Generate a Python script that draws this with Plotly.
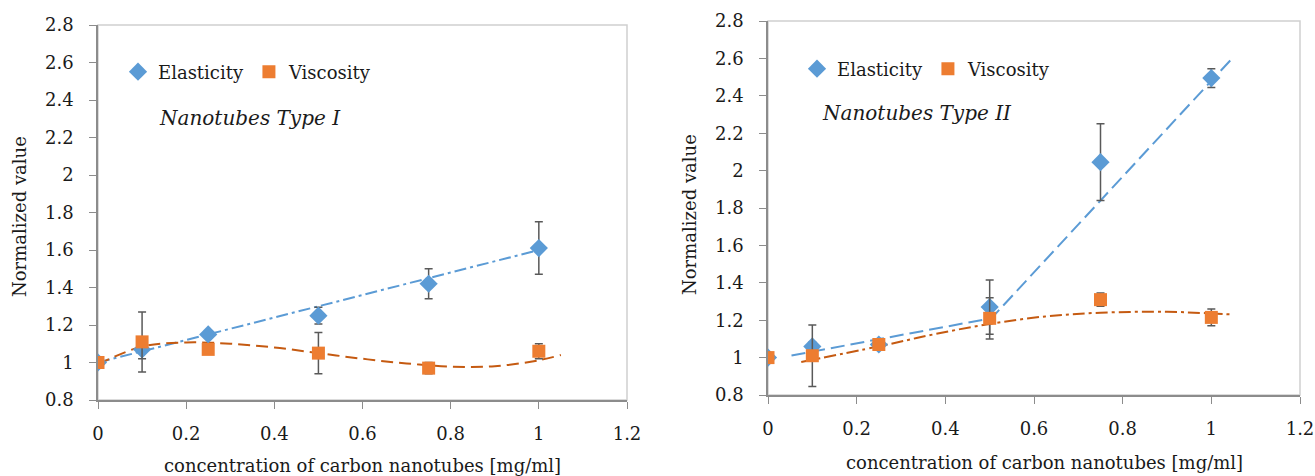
import plotly.graph_objects as go

# ---------------- data ----------------
conc = [0, 0.1, 0.25, 0.5, 0.75, 1.0]

# Panel I (Nanotubes Type I)
elast_1 = [1.0, 1.07, 1.15, 1.25, 1.42, 1.61]
elast_1_err = [0, 0.05, 0.02, 0.045, 0.08, 0.14]
visc_1 = [1.0, 1.11, 1.07, 1.05, 0.97, 1.06]
visc_1_err = [0, 0.16, 0.02, 0.11, 0.03, 0.04]

# Panel II (Nanotubes Type II)
elast_2 = [1.0, 1.06, 1.07, 1.27, 2.045, 2.495]
elast_2_err = [0, 0.022, 0.02, 0.145, 0.205, 0.05]
visc_2 = [1.0, 1.01, 1.07, 1.21, 1.31, 1.215]
visc_2_err = [0, 0.165, 0.02, 0.11, 0.035, 0.045]

# trend lines
tr_e1_x = [0, 1.0]
tr_e1_y = [1.0, 1.6]
tr_v1_x = [0, 0.1, 0.2, 0.3, 0.4, 0.5, 0.6, 0.7, 0.8, 0.9, 1.0, 1.05]
tr_v1_y = [0.99, 1.085, 1.107, 1.10, 1.08, 1.05, 1.02, 0.995, 0.978, 0.98, 1.012, 1.04]

tr_e2a_x = [0.053, 0.5]
tr_e2a_y = [1.011, 1.209]
tr_e2b_x = [0.5, 1.047]
tr_e2b_y = [1.2, 2.6]
tr_v2_x = [0.075, 0.25, 0.375, 0.5, 0.625, 0.75, 0.9, 1.0, 1.05]
tr_v2_y = [0.977, 1.06, 1.125, 1.18, 1.22, 1.24, 1.245, 1.236, 1.23]

x_ticks = [0, 0.2, 0.4, 0.6, 0.8, 1.0, 1.2]
x_tick_text = ["0", "0.2", "0.4", "0.6", "0.8", "1", "1.2"]
y_ticks = [0.8, 1.0, 1.2, 1.4, 1.6, 1.8, 2.0, 2.2, 2.4, 2.6, 2.8]
y_tick_text = ["0.8", "1", "1.2", "1.4", "1.6", "1.8", "2", "2.2", "2.4", "2.6", "2.8"]

x_title = "concentration of carbon nanotubes [mg/ml]"
y_title = "Normalized value"

# ---------------- styles ----------------
BLUE = "#5B9BD5"
BLUE_LINE = "#5B9BD5"
ORANGE = "#ED7D31"
ORANGE_LINE = "#C55A11"
ERR = "#595959"
FONT = "DejaVu Serif"
FS = 18
TXT = "#1a1a1a"

fig = go.Figure()

def add_panel(xa, ya, legend, e, e_err, v, v_err):
    fig.add_trace(go.Scatter(
        x=conc, y=e, mode="markers", name="Elasticity", legend=legend,
        xaxis=xa, yaxis=ya,
        marker=dict(symbol="diamond", size=14, color=BLUE),
        error_y=dict(type="data", array=e_err, visible=True, color=ERR,
                     thickness=1.5, width=4),
    ))
    fig.add_trace(go.Scatter(
        x=conc, y=v, mode="markers", name="Viscosity", legend=legend,
        xaxis=xa, yaxis=ya,
        marker=dict(symbol="square", size=13, color=ORANGE),
        error_y=dict(type="data", array=v_err, visible=True, color=ERR,
                     thickness=1.5, width=4),
    ))

def add_line(xa, ya, xs, ys, color, dash, shape="linear"):
    fig.add_trace(go.Scatter(
        x=xs, y=ys, mode="lines", showlegend=False, hoverinfo="skip",
        xaxis=xa, yaxis=ya,
        line=dict(color=color, width=2, dash=dash, shape=shape,
                  smoothing=1.0 if shape == "spline" else None),
    ))

# Panel I: trend lines first (under markers)
add_line("x", "y", tr_e1_x, tr_e1_y, BLUE_LINE, "12px,4px,3px,4px")
add_line("x", "y", tr_v1_x, tr_v1_y, ORANGE_LINE, "12px,6px", "spline")
add_panel("x", "y", "legend", elast_1, elast_1_err, visc_1, visc_1_err)

# Panel II
add_line("x2", "y2", tr_e2a_x, tr_e2a_y, BLUE_LINE, "14px,6px")
add_line("x2", "y2", tr_e2b_x, tr_e2b_y, BLUE_LINE, "14px,6px")
add_line("x2", "y2", tr_v2_x, tr_v2_y, ORANGE_LINE, "12px,4px,3px,4px", "spline")
add_panel("x2", "y2", "legend2", elast_2, elast_2_err, visc_2, visc_2_err)

W, H = 1315, 476

axis_common = dict(
    showgrid=False, zeroline=False, showline=True, linecolor="#8c8c8c",
    linewidth=1.5, ticks="outside", ticklen=7, tickcolor="#8c8c8c",
    tickwidth=1, tickfont=dict(family=FONT, size=FS, color=TXT),
    automargin=False,
)

def xaxis(domain, anchor):
    d = dict(axis_common)
    d.update(domain=domain, anchor=anchor, range=[0, 1.2],
             tickvals=x_ticks, ticktext=x_tick_text, ticklabelstandoff=10)
    return d

def yaxis(domain, anchor):
    d = dict(axis_common)
    d.update(domain=domain, anchor=anchor, range=[0.8, 2.8],
             tickvals=y_ticks, ticktext=y_tick_text, ticklabelstandoff=12)
    return d

left_x = [98 / W, 627 / W]
left_y = [(H - 400) / H, (H - 25) / H]
right_x = [768 / W, 1300 / W]
right_y = [(H - 395) / H, (H - 21) / H]

legend_common = dict(
    orientation="h", font=dict(family=FONT, size=FS, color=TXT),
    bgcolor="rgba(0,0,0,0)", xanchor="left", yanchor="middle",
    itemwidth=30,
)

def txt(text, x, y, size=FS, angle=0):
    return dict(text=text, xref="paper", yref="paper", x=x / W, y=1 - y / H,
                xanchor="center", yanchor="middle", showarrow=False,
                textangle=angle, font=dict(family=FONT, size=size, color=TXT))

fig.update_layout(
    width=W, height=H, autosize=False,
    margin=dict(l=0, r=0, t=0, b=0),
    paper_bgcolor="white", plot_bgcolor="white",
    xaxis=xaxis(left_x, "y"),
    yaxis=yaxis(left_y, "x"),
    xaxis2=xaxis(right_x, "y2"),
    yaxis2=yaxis(right_y, "x2"),
    legend=dict(legend_common, x=118 / W, y=1 - 72 / H),
    legend2=dict(legend_common, x=797 / W, y=1 - 69 / H),
    showlegend=True,
    annotations=[
        txt("<i>Nanotubes Type I</i>", 250, 118, 20),
        txt("<i>Nanotubes Type II</i>", 917, 113, 20),
        txt(x_title, 362, 465),
        txt(x_title, 1044, 462),
        txt(y_title, 20, 217, angle=-90),
        txt(y_title, 690, 215, angle=-90),
    ],
    shapes=[
        dict(type="rect", xref="x domain", yref="y domain", x0=0, x1=1, y0=0, y1=1,
             line=dict(color="#d0d0d0", width=1.5), layer="below"),
        dict(type="rect", xref="x2 domain", yref="y2 domain", x0=0, x1=1, y0=0, y1=1,
             line=dict(color="#d0d0d0", width=1.5), layer="below"),
    ],
)

fig.write_html("out.html")
